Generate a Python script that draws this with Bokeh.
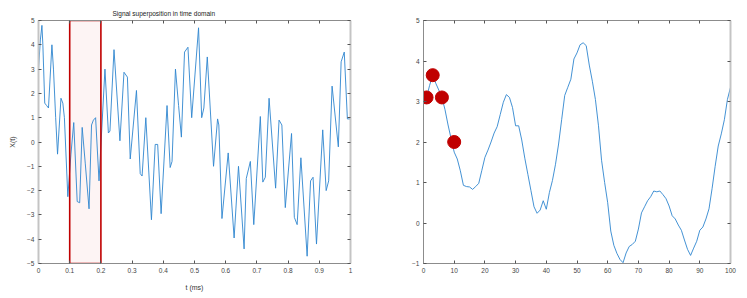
from bokeh.plotting import figure
from bokeh.layouts import row
from bokeh.models import LinearAxis, FixedTicker, Range1d
from bokeh.embed import file_html
from bokeh.resources import INLINE

# ---------------- data ----------------
sig_t = [0.000, 0.006, 0.011, 0.014, 0.020, 0.026, 0.032, 0.043, 0.048, 0.055,
         0.061, 0.072, 0.078, 0.083, 0.094, 0.104, 0.113, 0.124, 0.132, 0.140,
         0.150, 0.162, 0.170, 0.176, 0.183, 0.194, 0.213, 0.224, 0.229, 0.242,
         0.261, 0.274, 0.285, 0.294, 0.314, 0.326, 0.332, 0.344, 0.362, 0.374,
         0.382, 0.393, 0.412, 0.422, 0.428, 0.439, 0.449, 0.458, 0.468, 0.479,
         0.491, 0.513, 0.523, 0.530, 0.541, 0.561, 0.574, 0.578, 0.588, 0.608,
         0.627, 0.641, 0.659, 0.666, 0.679, 0.690, 0.711, 0.719, 0.727, 0.739,
         0.760, 0.771, 0.780, 0.791, 0.811, 0.820, 0.829, 0.841, 0.861, 0.872,
         0.880, 0.891, 0.911, 0.922, 0.930, 0.941, 0.961, 0.970, 0.980, 0.990,
         1.000]
sig_x = [3.0, 4.2, 4.8, 4.0, 1.6, 1.5, 1.4, 4.0, 3.0, 1.0,
         -0.5, 1.8, 1.6, 1.0, -2.25, -0.5, 0.8, -2.45, -2.5, 0.6,
         -0.9, -2.75, 0.7, 0.9, 1.0, -1.6, 3.0, 0.37, 0.45, 3.8,
         0.05, 2.87, 2.67, -0.7, 2.12, -1.3, -1.4, 1.0, -3.2, -0.1,
         -0.1, -2.95, 1.5, -1.05, -0.8, 3.0, 1.5, 0.2, 3.7, 3.9,
         1.0, 4.7, 1.0, 1.4, 3.5, -1.0, 0.95, 0.7, -3.15, -0.45,
         -3.95, -1.0, -4.4, -1.5, -0.8, -3.4, 1.05, -1.65, -1.45, 1.8,
         -1.9, 0.9, 0.7, -2.7, 0.35, -3.1, -3.4, -0.65, -4.7, -1.6,
         -1.45, -4.2, 0.5, -2.0, -1.6, 2.3, -0.2, 3.3, 3.7, 0.95,
         0.95]

win_t = [0.1, 0.2]
win_x = [-5.0, 5.0]

smooth_n = list(range(1, 101))
smooth_v = [3.10, 3.40, 3.65, 3.45, 3.28, 3.10, 2.80, 2.42, 2.08, 1.75,
            1.58, 1.29, 0.93, 0.90, 0.89, 0.83, 0.90, 0.98, 1.30, 1.62,
            1.80, 2.00, 2.22, 2.38, 2.68, 2.98, 3.17, 3.10, 2.85, 2.40,
            2.40, 2.05, 1.60, 1.20, 0.80, 0.40, 0.24, 0.32, 0.55, 0.34,
            0.75, 1.05, 1.45, 1.95, 2.55, 3.15, 3.35, 3.55, 4.05, 4.20,
            4.40, 4.45, 4.38, 3.90, 3.50, 3.05, 2.40, 1.55, 1.00, 0.50,
            -0.20, -0.55, -0.75, -0.90, -0.98, -0.74, -0.58, -0.53, -0.45, -0.15,
            0.25, 0.40, 0.55, 0.65, 0.79, 0.77, 0.79, 0.70, 0.60, 0.42,
            0.18, 0.10, -0.05, -0.18, -0.42, -0.65, -0.80, -0.62, -0.45, -0.18,
            -0.10, 0.10, 0.35, 0.85, 1.40, 1.90, 2.20, 2.55, 3.05, 3.35]

peak_n = [1, 3, 6, 10]
peak_v = [3.10, 3.65, 3.10, 2.00]

left_xticks = [0, 0.1, 0.2, 0.3, 0.4, 0.5, 0.6, 0.7, 0.8, 0.9, 1]
left_xlabels = ["0", "0.1", "0.2", "0.3", "0.4", "0.5", "0.6", "0.7", "0.8", "0.9", "1"]
left_yticks = [-5, -4, -3, -2, -1, 0, 1, 2, 3, 4, 5]
right_xticks = [0, 10, 20, 30, 40, 50, 60, 70, 80, 90, 100]
right_yticks = [-1, 0, 1, 2, 3, 4, 5]

title_text = "Signal superposition in time domain"
xlabel_text = "t (ms)"
ylabel_text = "X(t)"

FONT = "Liberation Sans"
LINE_COLOR = "#2F86CF"
DOT_COLOR = "#C00000"


def style_axis(ax, ticks, show_labels=True, overrides=None, line_w=1, line_col="#8c8c8c"):
    ax.ticker = FixedTicker(ticks=ticks)
    ax.major_tick_in = 3
    ax.major_tick_out = 0
    ax.minor_tick_line_color = None
    ax.major_tick_line_color = "#555555"
    ax.axis_line_color = line_col
    ax.axis_line_width = line_w
    ax.major_label_text_font = FONT
    ax.major_label_text_font_size = "6.5px"
    ax.major_label_text_color = "#444444"
    ax.major_label_standoff = 4
    ax.axis_label_text_font = FONT
    ax.axis_label_text_font_size = "7px"
    ax.axis_label_text_font_style = "normal"
    ax.axis_label_text_color = "#333333"
    if overrides:
        ax.major_label_overrides = overrides
    if not show_labels:
        ax.major_label_text_font_size = "1px"
        ax.major_label_text_color = None
        ax.major_label_standoff = 0


def add_box_axes(p, xticks, yticks):
    top = LinearAxis()
    style_axis(top, xticks, show_labels=False)
    p.add_layout(top, "above")
    right = LinearAxis()
    style_axis(right, yticks, show_labels=False, line_w=2, line_col="#c4c4c4")
    p.add_layout(right, "right")


# ---------------- left figure ----------------
p1 = figure(width=385, height=298, output_backend="svg", toolbar_location=None,
            x_range=Range1d(0, 1), y_range=Range1d(-5, 5),
            min_border_left=38, min_border_right=35, min_border_top=18, min_border_bottom=32)
p1.title.text = title_text
p1.title.align = "left"
p1.title.offset = 74
p1.title.text_font = FONT
p1.title.text_font_size = "6.5px"
p1.title.text_font_style = "normal"
p1.title.text_color = "#222222"
p1.title.standoff = 7
p1.xgrid.visible = False
p1.ygrid.visible = False
p1.outline_line_color = None
p1.background_fill_color = "white"
p1.border_fill_color = "white"

p1.quad(left=win_t[0], right=win_t[1], bottom=win_x[0], top=win_x[1],
        fill_color="#fdf4f4", line_color=None)
p1.line(sig_t, sig_x, line_color=LINE_COLOR, line_width=0.9)
p1.quad(left=win_t[0], right=win_t[1], bottom=win_x[0], top=win_x[1],
        fill_color=None, line_color=DOT_COLOR, line_width=1.6)

style_axis(p1.xaxis[0], left_xticks,
           overrides={t: l for t, l in zip(left_xticks, left_xlabels)})
style_axis(p1.yaxis[0], left_yticks, line_w=2, line_col="#c4c4c4")
p1.xaxis[0].axis_label = xlabel_text
p1.yaxis[0].axis_label = ylabel_text
p1.xaxis[0].axis_label_standoff = 8
p1.yaxis[0].axis_label_standoff = 8
add_box_axes(p1, left_xticks, left_yticks)

# ---------------- right figure ----------------
p2 = figure(width=362, height=298, output_backend="svg", toolbar_location=None,
            x_range=Range1d(0, 100), y_range=Range1d(-1, 5),
            min_border_left=38, min_border_right=17, min_border_top=20, min_border_bottom=35)
p2.xgrid.visible = False
p2.ygrid.visible = False
p2.outline_line_color = None
p2.line(smooth_n, smooth_v, line_color=LINE_COLOR, line_width=0.9)
p2.scatter(peak_n, peak_v, size=13, fill_color=DOT_COLOR, line_color=DOT_COLOR)
style_axis(p2.xaxis[0], right_xticks)
style_axis(p2.yaxis[0], right_yticks)
add_box_axes(p2, right_xticks, right_yticks)

layout = row(p1, p2)
open("out.html", "w").write(file_html(layout, INLINE))
